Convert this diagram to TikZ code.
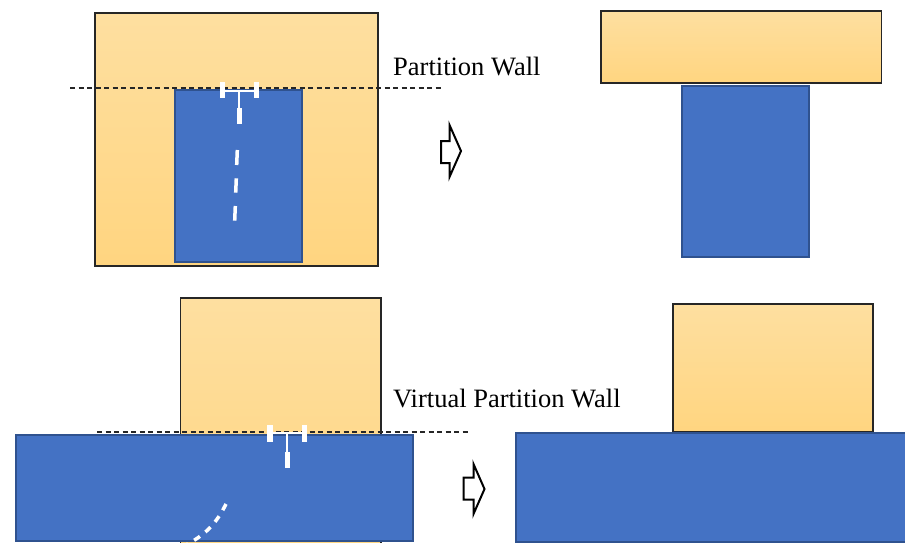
\documentclass[tikz,border=0pt]{standalone}
\usepackage{fontspec}
\setmainfont{Liberation Serif}
\definecolor{orTop}{RGB}{254,223,160}
\definecolor{orBot}{RGB}{255,213,128}
\definecolor{blFill}{RGB}{68,114,196}
\definecolor{blEdge}{RGB}{47,82,143}
\tikzset{
  orangebox/.style={draw=black!85, line width=1.2pt, top color=orTop, bottom color=orBot},
  bluebox/.style={draw=blEdge, line width=2pt, fill=blFill},
  cutline/.style={draw=black!85, line width=1.2pt, dash pattern=on 5pt off 3.5pt},
  whitebar/.style={draw=none, fill=white},
  whitethin/.style={draw=white, line width=2pt},
  whitedash/.style={draw=white, line width=3.5pt},
  blockarrow/.style={draw=black, line width=2pt, fill=white, line join=miter},
  walllabel/.style={font=\fontsize{26.5}{30}\selectfont, inner sep=0pt, anchor=base west},
}
\begin{document}
\begin{tikzpicture}[x=1pt,y=-1pt]
\useasboundingbox (0,0) rectangle (905,543);
\clip (0,0) rectangle (905,543);
% ---------- top left ----------
\path[orangebox] (95,13) rectangle (378,266);
\path[cutline] (70,88) -- (442,88);
\path[bluebox] (175,90) rectangle (302,262);
\fill[whitebar] (219.5,82) rectangle (224.5,98);
\fill[whitebar] (254,82) rectangle (259,98);
\draw[whitethin] (222,90.5) -- (256.5,90.5);
\draw[whitethin] (239,90.5) -- (239,108);
\fill[whitebar] (236.7,108) rectangle (241.7,124);
\draw[whitedash] (237.3,150) -- (236.7,165);
\draw[whitedash] (236.3,178.3) -- (235.7,192.7);
\draw[whitedash] (235.3,206) -- (234.7,220.7);
\node[walllabel] (pw) at (393,75.5) {Partition Wall};
% ---------- top arrow ----------
\draw[blockarrow] (441,141) -- (449.5,141) -- (449.5,125) -- (461,151) -- (449.5,177) -- (449.5,163) -- (441,163) -- cycle;
% ---------- top right ----------
\path[orangebox] (601,11) rectangle (881.5,83);
\path[bluebox] (682,86) rectangle (808.5,257);
% ---------- bottom left ----------
\path[orangebox] (180.5,298) rectangle (381,560);
\path[bluebox] (15.5,435) rectangle (413,540.5);
\path[cutline] (97,432) -- (470,432);
\fill[whitebar] (267.3,425) rectangle (272.7,441.7);
\fill[whitebar] (302,425) rectangle (307.3,441.7);
\draw[whitethin] (270,432.7) -- (304.7,432.7);
\draw[whitethin] (287.3,432.7) -- (287.3,452);
\fill[whitebar] (284.7,451.7) rectangle (290,468);
\draw[white, line width=3.5pt, dash pattern=on 7pt off 7pt]
  (226,504) .. controls (216,524) and (205,536) .. (180,548);
\node[walllabel] (vpw) at (393,407) {Virtual Partition Wall};
% ---------- bottom arrow ----------
\draw[blockarrow] (463.5,477.5) -- (473.5,477.5) -- (473.5,464) -- (484.5,489) -- (473.5,514) -- (473.5,499.5) -- (463.5,499.5) -- cycle;
% ---------- bottom right ----------
\path[orangebox] (673,304) rectangle (873,432);
\path[bluebox] (516,432.5) rectangle (915,541.5);
\end{tikzpicture}
\end{document}
